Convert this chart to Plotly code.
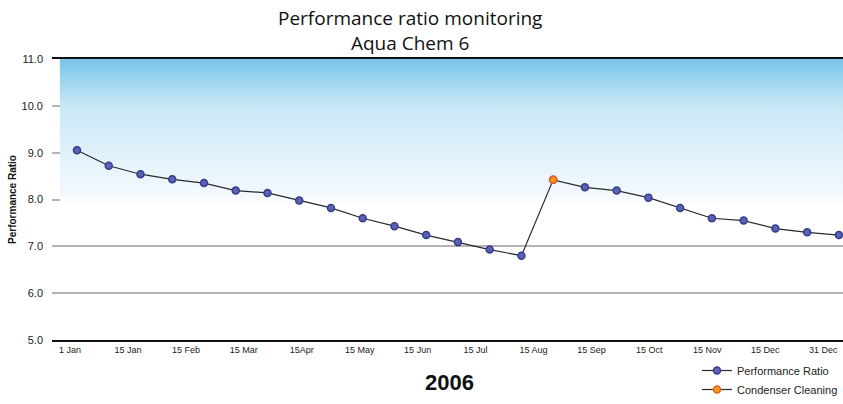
import plotly.graph_objects as go

# Performance ratio readings through 2006 (one reading roughly every two weeks)
performance_ratio = [9.05, 8.72, 8.54, 8.43, 8.35, 8.19, 8.14, 7.98, 7.82, 7.60,
                     7.43, 7.24, 7.09, 6.93, 6.80, 8.42, 8.26, 8.19, 8.04, 7.82,
                     7.60, 7.55, 7.38, 7.30, 7.24]
cleaning_index = 15  # reading taken right after the condenser cleaning

tick_labels = ["1 Jan", "15 Jan", "15 Feb", "15 Mar", "15Apr", "15 May", "15 Jun",
               "15 Jul", "15 Aug", "15 Sep", "15 Oct", "15 Nov", "15 Dec", "31 Dec"]
y_ticks = [5, 6, 7, 8, 9, 10, 11]

x_idx = list(range(len(performance_ratio)))
# month labels are spread evenly along the axis
tick_pos = [-0.22 + 1.825 * k for k in range(len(tick_labels))]

BLUE = "#5a62b3"
BLUE_EDGE = "#363c8c"
ORANGE = "#f7941d"
ORANGE_EDGE = "#e8601a"

fig = go.Figure()

# sky-blue backdrop fading to white
fig.add_trace(go.Scatter(
    x=[-0.54, 24.2, 24.2, -0.54, -0.54], y=[7.85, 7.85, 11, 11, 7.85],
    mode="none", fill="toself", hoverinfo="skip", showlegend=False,
    fillgradient=dict(type="vertical", start=7.85, stop=11,
                      colorscale=[[0, "rgba(255,255,255,1)"], [0.08, "#f3f9fd"],
                                  [0.37, "#e0f1fa"], [0.68, "#c8e7f6"],
                                  [1, "#79c5ea"]]),
))

fig.add_trace(go.Scatter(
    x=x_idx, y=performance_ratio, mode="lines+markers", name="Performance Ratio",
    line=dict(color="#2a2a2a", width=1.2),
    marker=dict(size=7, color=BLUE, line=dict(color=BLUE_EDGE, width=1.5)),
    cliponaxis=False,
))

fig.add_trace(go.Scatter(
    x=[x_idx[cleaning_index]], y=[performance_ratio[cleaning_index]],
    mode="lines+markers", name="Condenser Cleaning",
    line=dict(color="#2a2a2a", width=1.2),
    marker=dict(size=7, color=ORANGE, line=dict(color=ORANGE_EDGE, width=1.5)),
    cliponaxis=False,
))

fig.update_layout(
    width=843, height=404,
    margin=dict(l=52, r=0, t=59, b=64, autoexpand=False),
    paper_bgcolor="white", plot_bgcolor="white",
    xaxis=dict(range=[-0.788, 24.13], tickmode="array", tickvals=tick_pos,
               ticktext=tick_labels, showgrid=False, zeroline=False,
               showline=True, linecolor="#111", linewidth=2, mirror=True,
               ticks="", tickfont=dict(family="Liberation Sans", size=9, color="#222")),
    yaxis=dict(range=[5, 11], tickmode="array", tickvals=y_ticks,
               tickformat=".1f", showgrid=True, gridcolor="#b4b4b4", gridwidth=1.5,
               zeroline=False, showline=False, ticks="", ticklabelstandoff=8,
               tickfont=dict(family="Liberation Sans", size=11, color="#222"),
               title=dict(text="<b>Performance Ratio</b>", standoff=3,
                          font=dict(family="Liberation Sans", size=10, color="#111"))),
    legend=dict(x=1, xanchor="right", xref="paper", y=0, yref="container",
                yanchor="bottom",
                font=dict(family="Liberation Sans", size=11, color="#222"),
                bgcolor="rgba(0,0,0,0)", tracegroupgap=0),
    annotations=[
        dict(text="Performance ratio monitoring<br>Aqua Chem 6", xref="paper", yref="paper",
             x=0.453, y=1.103, xanchor="center", yanchor="middle", showarrow=False,
             font=dict(family="Open Sans", size=19, color="#111")),
        dict(text="<b>2006</b>", xref="paper", yref="paper",
             x=0.503, y=-0.1, xanchor="center", yanchor="top", showarrow=False,
             font=dict(family="Liberation Sans", size=22, color="#111")),
    ],
)

fig.write_html("out.html")
